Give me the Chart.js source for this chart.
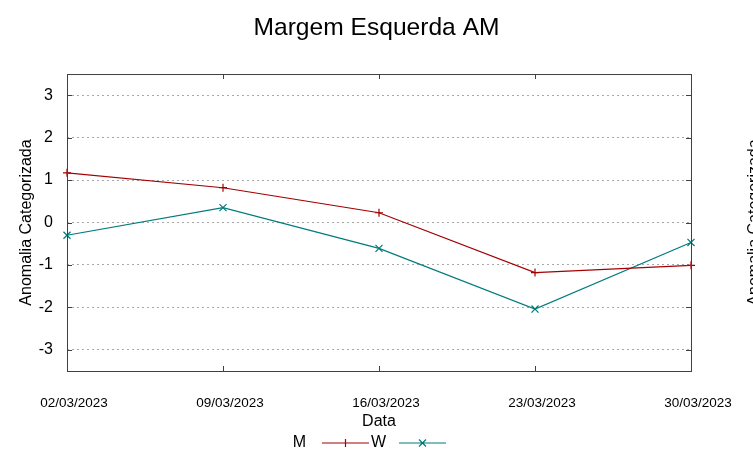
<!DOCTYPE html>
<html>
<head>
<meta charset="utf-8">
<script src="https://cdn.jsdelivr.net/npm/chart.js@4.4.0/dist/chart.umd.min.js"></script>
<style>
  html, body { margin: 0; padding: 0; background: #fff; overflow: hidden; }
  #wrap { width: 753px; height: 459px; }
</style>
</head>
<body>
<div id="wrap"><canvas id="chart" width="753" height="459"></canvas></div>
<script>
// data
const datas = ["02/03/2023", "09/03/2023", "16/03/2023", "23/03/2023", "30/03/2023"];
const serieM = [1.17, 0.82, 0.23, -1.18, -1.01];
const serieW = [-0.30, 0.35, -0.61, -2.04, -0.47];
const yTicks = [-3, -2, -1, 0, 1, 2, 3];

const corM = "#a30000";
const corW = "#007b7b";
const yTitulo = "Anomalia Categorizada";

Chart.defaults.font.family = "'Liberation Sans', Arial, sans-serif";
Chart.defaults.color = "#000";

// border, inward ticks, legend and mirrored y label (gnuplot look)
const gnuplotExtras = {
  id: "gnuplotExtras",
  afterDraw(chart) {
    const ctx = chart.ctx;
    const a = chart.chartArea;
    const x = chart.scales.x;
    const y = chart.scales.y;
    ctx.save();
    ctx.strokeStyle = "#404040";
    ctx.lineWidth = 1;
    ctx.strokeRect(a.left + 0.5, a.top + 0.5, a.right - a.left, a.bottom - a.top);
    ctx.beginPath();
    yTicks.forEach((v) => {
      const py = Math.round(y.getPixelForValue(v)) + 0.5;
      ctx.moveTo(a.left, py);
      ctx.lineTo(a.left + 5, py);
      ctx.moveTo(a.right, py);
      ctx.lineTo(a.right - 5, py);
    });
    datas.forEach((d, i) => {
      const px = Math.round(x.getPixelForValue(i)) + 0.5;
      ctx.moveTo(px, a.bottom);
      ctx.lineTo(px, a.bottom - 5);
      ctx.moveTo(px, a.top);
      ctx.lineTo(px, a.top + 5);
    });
    ctx.stroke();

    // legend
    ctx.font = "16px 'Liberation Sans', Arial, sans-serif";
    ctx.fillStyle = "#000";
    ctx.textAlign = "right";
    ctx.textBaseline = "middle";
    const ly = 443;
    const itens = [
      { nome: "M", cor: corM, tx: 306, x0: 322, x1: 369, cruz: false },
      { nome: "W", cor: corW, tx: 386, x0: 399, x1: 446, cruz: true },
    ];
    itens.forEach((it) => {
      ctx.fillText(it.nome, it.tx, ly);
      ctx.strokeStyle = it.cor;
      ctx.lineWidth = 1.2;
      ctx.beginPath();
      ctx.moveTo(it.x0, ly);
      ctx.lineTo(it.x1, ly);
      const cx = (it.x0 + it.x1) / 2;
      if (it.cruz) {
        ctx.moveTo(cx - 3.5, ly - 3.5);
        ctx.lineTo(cx + 3.5, ly + 3.5);
        ctx.moveTo(cx - 3.5, ly + 3.5);
        ctx.lineTo(cx + 3.5, ly - 3.5);
      } else {
        ctx.moveTo(cx, ly - 4);
        ctx.lineTo(cx, ly + 4);
      }
      ctx.stroke();
    });

    // mirrored y2 label, cut by the right edge
    ctx.translate(755, (a.top + a.bottom) / 2);
    ctx.rotate(-Math.PI / 2);
    ctx.textAlign = "center";
    ctx.fillText(yTitulo, 0, 0);
    ctx.restore();
  },
};

const ctx = document.getElementById("chart").getContext("2d");
const myChart = new Chart(ctx, {
  type: "line",
  data: {
    labels: datas,
    datasets: [
      {
        label: "M",
        data: serieM,
        borderColor: corM,
        backgroundColor: corM,
        borderWidth: 1.2,
        pointStyle: "cross",
        pointRadius: 4,
        pointBorderWidth: 1.2,
        tension: 0,
        clip: false,
      },
      {
        label: "W",
        data: serieW,
        borderColor: corW,
        backgroundColor: corW,
        borderWidth: 1.2,
        pointStyle: "crossRot",
        pointRadius: 5,
        pointBorderWidth: 1.2,
        tension: 0,
        clip: false,
      },
    ],
  },
  options: {
    responsive: false,
    animation: false,
    layout: { padding: 0 },
    plugins: {
      legend: { display: false },
      tooltip: { enabled: false },
      title: {
        display: true,
        text: "Margem Esquerda AM",
        font: { size: 24.6, weight: "normal" },
        color: "#000",
        padding: { top: 13.5, bottom: 31 },
      },
    },
    scales: {
      x: {
        type: "category",
        offset: false,
        grid: { display: false, drawTicks: false },
        border: { display: false },
        ticks: { font: { size: 13.5 }, color: "#000", padding: 24, labelOffset: 7, maxRotation: 0, autoSkip: false },
        title: { display: true, text: "Data", font: { size: 16 }, color: "#000", padding: { top: 0, bottom: 27.4 } },
        afterFit: (scale) => { scale.height = 88; },
      },
      y: {
        min: -3.5,
        max: 3.5,
        afterBuildTicks: (scale) => { scale.ticks = yTicks.map((v) => ({ value: v })); },
        grid: { color: "#a8a8a8", lineWidth: 1, drawTicks: false },
        border: { display: false, dash: [2, 3] },
        ticks: { font: { size: 16 }, color: "#000", padding: 14 },
        title: { display: true, text: yTitulo, font: { size: 16 }, color: "#000", padding: { top: 17, bottom: 0 } },
        afterFit: (scale) => { scale.width = 67; },
      },
      // empty right-hand axis, only reserves the space of the y2 side
      y2: {
        position: "right",
        min: -3.5,
        max: 3.5,
        grid: { display: false, drawTicks: false },
        border: { display: false },
        ticks: { display: false },
        afterFit: (scale) => { scale.width = 62; },
      },
    },
  },
  plugins: [gnuplotExtras],
});
</script>
</body>
</html>
